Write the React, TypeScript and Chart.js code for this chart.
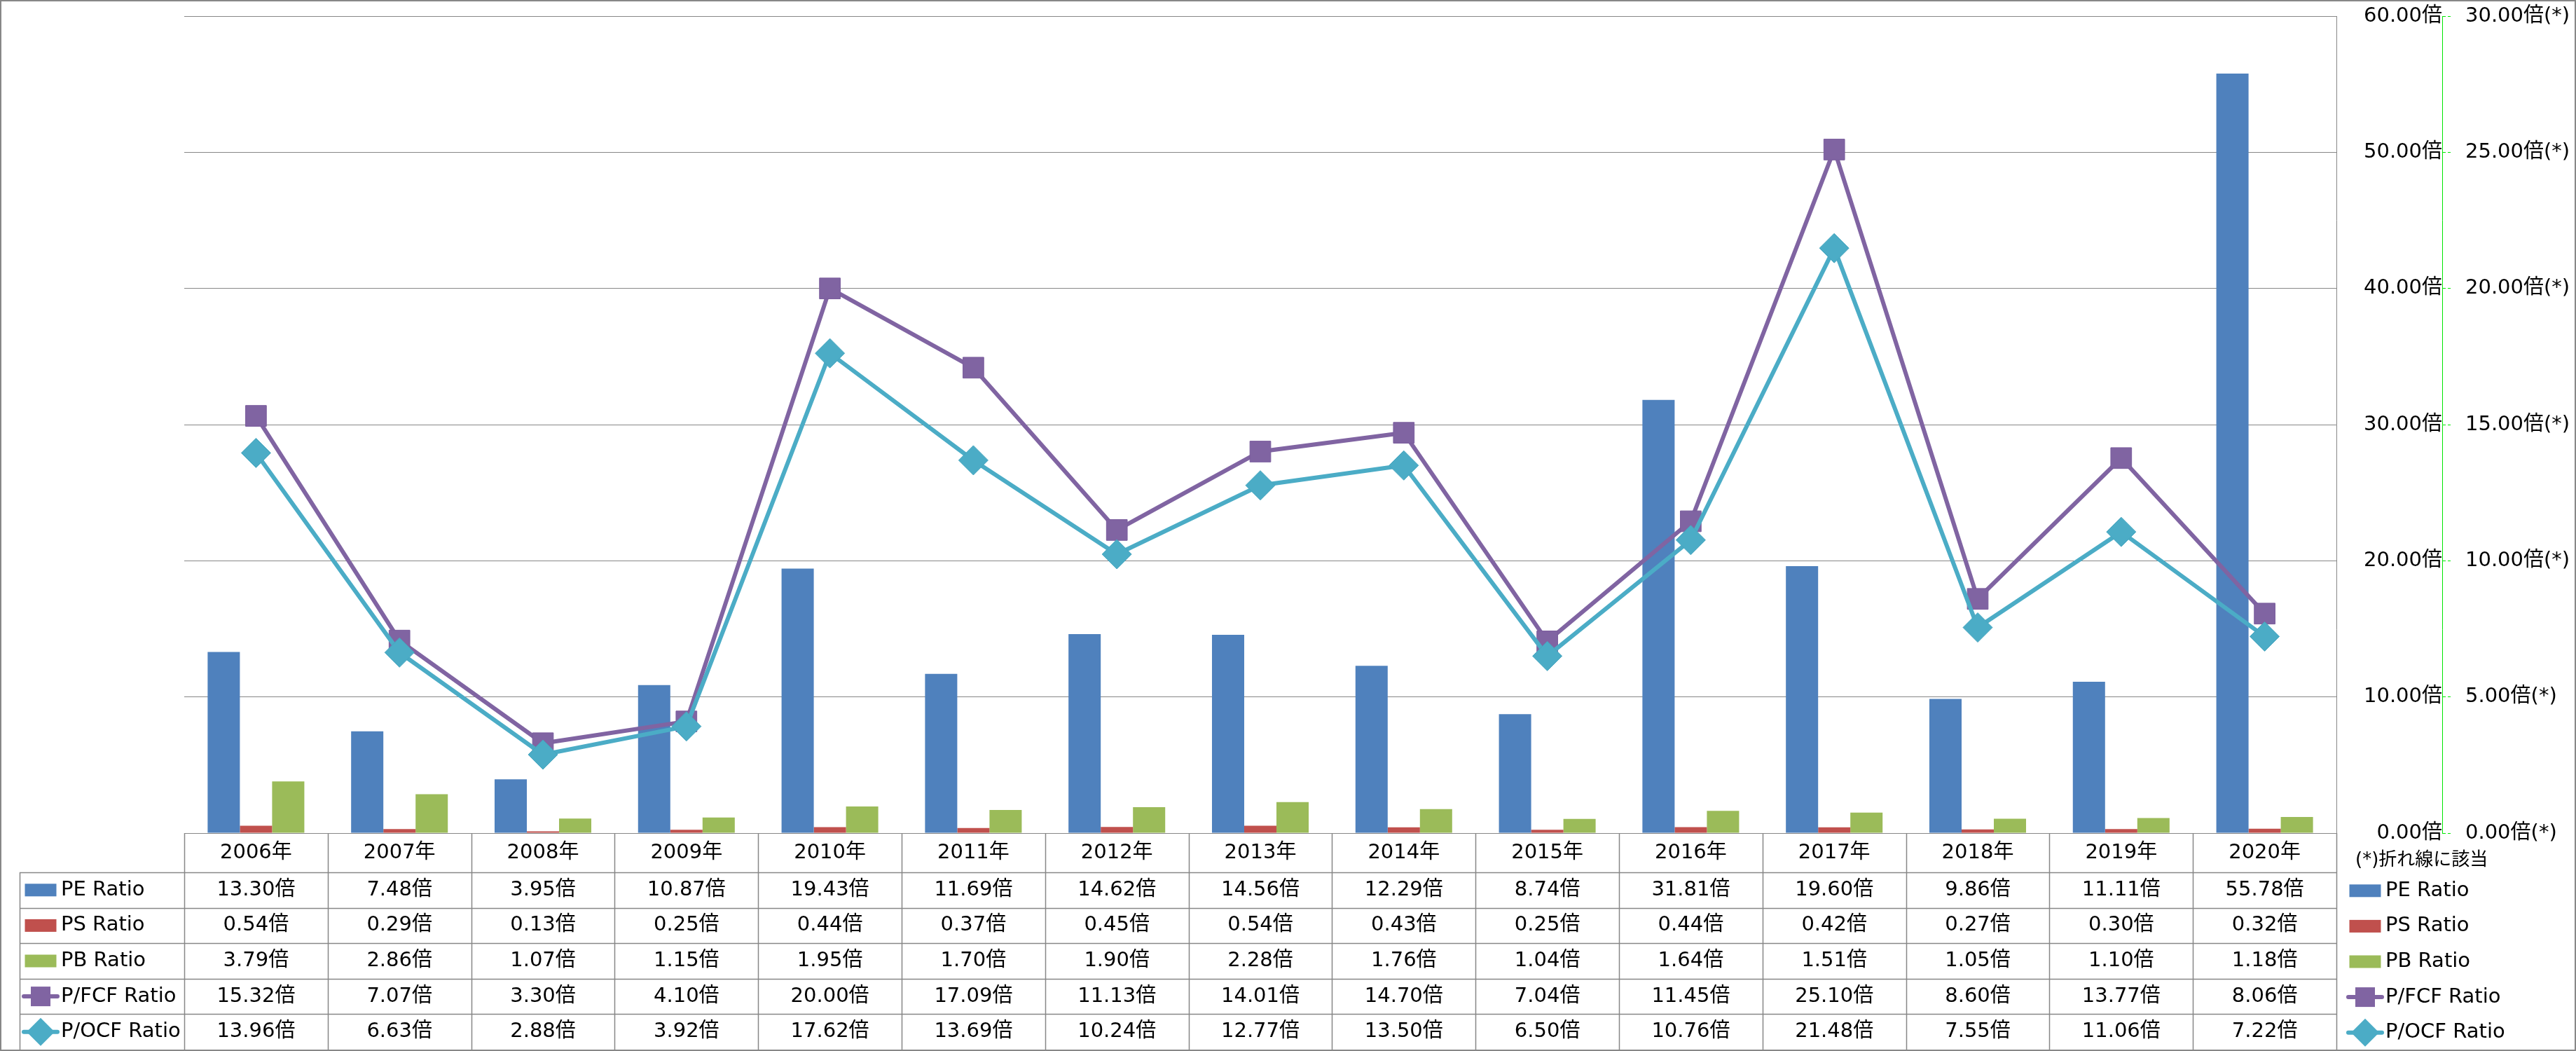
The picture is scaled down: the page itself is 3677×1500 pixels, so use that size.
import React, { useEffect, useRef } from 'react';
import { Chart, registerables } from 'chart.js';

Chart.register(...registerables);

const years = ['2006年', '2007年', '2008年', '2009年', '2010年', '2011年', '2012年', '2013年', '2014年', '2015年', '2016年', '2017年', '2018年', '2019年', '2020年'];
const peRatio = [13.30, 7.48, 3.95, 10.87, 19.43, 11.69, 14.62, 14.56, 12.29, 8.74, 31.81, 19.60, 9.86, 11.11, 55.78];
const psRatio = [0.54, 0.29, 0.13, 0.25, 0.44, 0.37, 0.45, 0.54, 0.43, 0.25, 0.44, 0.42, 0.27, 0.30, 0.32];
const pbRatio = [3.79, 2.86, 1.07, 1.15, 1.95, 1.70, 1.90, 2.28, 1.76, 1.04, 1.64, 1.51, 1.05, 1.10, 1.18];
const pfcfRatio = [15.32, 7.07, 3.30, 4.10, 20.00, 17.09, 11.13, 14.01, 14.70, 7.04, 11.45, 25.10, 8.60, 13.77, 8.06];
const pocfRatio = [13.96, 6.63, 2.88, 3.92, 17.62, 13.69, 10.24, 12.77, 13.50, 6.50, 10.76, 21.48, 7.55, 11.06, 7.22];

const seriesNames = ['PE Ratio', 'PS Ratio', 'PB Ratio', 'P/FCF Ratio', 'P/OCF Ratio'];
const barAxisMax = 60;
const lineAxisMax = 30;
const footnote = '(*)折れ線に該当';

const FONT = "'DejaVu Sans', 'Noto Sans CJK JP', sans-serif";
const GRID = '#878787';
const COLORS = ['#4F81BD', '#C0504D', '#9BBB59', '#8064A2', '#4BACC6'];

export default function App() {
  const ref = useRef<HTMLCanvasElement | null>(null);

  useEffect(() => {
    const canvas = ref.current;
    if (!canvas) return;

    const rows = [
      { name: seriesNames[0], values: peRatio, color: COLORS[0], kind: 'bar' },
      { name: seriesNames[1], values: psRatio, color: COLORS[1], kind: 'bar' },
      { name: seriesNames[2], values: pbRatio, color: COLORS[2], kind: 'bar' },
      { name: seriesNames[3], values: pfcfRatio, color: COLORS[3], kind: 'rect' },
      { name: seriesNames[4], values: pocfRatio, color: COLORS[4], kind: 'diamond' },
    ];

    const drawKey = (ctx: CanvasRenderingContext2D, kind: string, color: string, cx: number, cy: number) => {
      ctx.save();
      ctx.fillStyle = color;
      ctx.strokeStyle = color;
      if (kind === 'bar') {
        ctx.fillRect(cx - 22.5, cy - 9, 45, 18);
      } else {
        ctx.lineWidth = 6;
        ctx.lineCap = 'round';
        ctx.beginPath();
        ctx.moveTo(cx - 24, cy);
        ctx.lineTo(cx + 24, cy);
        ctx.stroke();
        ctx.beginPath();
        if (kind === 'rect') {
          ctx.rect(cx - 14, cy - 14, 28, 28);
        } else {
          ctx.moveTo(cx - 20, cy);
          ctx.lineTo(cx, cy - 20);
          ctx.lineTo(cx + 20, cy);
          ctx.lineTo(cx, cy + 20);
          ctx.closePath();
        }
        ctx.fill();
      }
      ctx.restore();
    };

    const tablePlugin = {
      id: 'dataTable',
      afterDraw(chart: any) {
        const ctx: CanvasRenderingContext2D = chart.ctx;
        const xs = chart.scales.x;
        const n = years.length;
        const left = xs.left;
        const right = xs.right;
        const cw = (right - left) / n;
        const top = chart.chartArea.bottom;
        const headerBottom = top + 56;
        const bottom = chart.height - 2;
        const rowH = (bottom - headerBottom) / rows.length;
        const labelLeft = 28;

        ctx.save();
        ctx.strokeStyle = GRID;
        ctx.lineWidth = 1.5;
        for (let i = 0; i <= n; i++) {
          const x = Math.round(left + i * cw) + 0.5;
          ctx.beginPath();
          ctx.moveTo(x, top);
          ctx.lineTo(x, bottom);
          ctx.stroke();
        }
        ctx.beginPath();
        ctx.moveTo(labelLeft + 0.5, headerBottom);
        ctx.lineTo(labelLeft + 0.5, bottom);
        ctx.stroke();
        for (let r = 0; r < rows.length; r++) {
          const y = Math.round(headerBottom + r * rowH) + 0.5;
          ctx.beginPath();
          ctx.moveTo(labelLeft, y);
          ctx.lineTo(right, y);
          ctx.stroke();
        }

        ctx.fillStyle = '#000';
        ctx.font = `29px ${FONT}`;
        ctx.textAlign = 'center';
        ctx.textBaseline = 'middle';
        rows.forEach((row, r) => {
          const cy = headerBottom + r * rowH + rowH / 2;
          row.values.forEach((v, i) => {
            ctx.fillText(v.toFixed(2) + '倍', xs.getPixelForValue(i), cy);
          });
        });

        ctx.textAlign = 'left';
        rows.forEach((row, r) => {
          const cy = headerBottom + r * rowH + rowH / 2;
          drawKey(ctx, row.kind, row.color, 58, cy);
          ctx.fillStyle = '#000';
          ctx.fillText(row.name, 87, cy);
        });

        rows.forEach((row, r) => {
          const cy = headerBottom + r * rowH + rowH / 2 + 1;
          drawKey(ctx, row.kind, row.color, 3376, cy);
          ctx.fillStyle = '#000';
          ctx.fillText(row.name, 3405, cy);
        });

        ctx.font = `26px ${FONT}`;
        ctx.fillText(footnote, 3362, top + 39);

        ctx.strokeStyle = GRID;
        ctx.lineWidth = 2;
        ctx.strokeRect(1, 1, chart.width - 2, chart.height - 2);
        ctx.restore();
      },
    };

    const noVPad = (s: any, w: number) => {
      s.width = w;
      s.paddingTop = 0;
      s.paddingBottom = 0;
    };

    const chart = new Chart(canvas, {
      type: 'bar',
      data: {
        labels: years,
        datasets: [
          {
            type: 'line',
            label: seriesNames[4],
            data: pocfRatio,
            yAxisID: 'y1',
            borderColor: COLORS[4],
            backgroundColor: COLORS[4],
            pointBackgroundColor: COLORS[4],
            pointBorderColor: '#46A5BE',
            pointBorderWidth: 1,
            pointStyle: 'rectRot',
            pointRadius: 21,
            borderWidth: 6,
            tension: 0,
            order: 0,
          },
          {
            type: 'line',
            label: seriesNames[3],
            data: pfcfRatio,
            yAxisID: 'y1',
            borderColor: COLORS[3],
            backgroundColor: COLORS[3],
            pointBackgroundColor: COLORS[3],
            pointBorderColor: '#7A5D9D',
            pointBorderWidth: 1,
            pointStyle: 'rect',
            pointRadius: 21,
            borderWidth: 6,
            tension: 0,
            order: 1,
          },
          { type: 'bar', label: seriesNames[0], data: peRatio, yAxisID: 'y', backgroundColor: COLORS[0], order: 2 },
          { type: 'bar', label: seriesNames[1], data: psRatio, yAxisID: 'y', backgroundColor: COLORS[1], order: 2 },
          { type: 'bar', label: seriesNames[2], data: pbRatio, yAxisID: 'y', backgroundColor: COLORS[2], order: 2 },
        ] as any,
      },
      options: {
        responsive: false,
        animation: false,
        events: [],
        layout: { padding: { left: 263, top: 23, right: 0, bottom: 0 } },
        datasets: {
          bar: { categoryPercentage: 0.674, barPercentage: 1 },
        },
        plugins: {
          legend: { display: false },
          tooltip: { enabled: false },
          title: { display: false },
        },
        scales: {
          x: {
            type: 'category',
            offset: true,
            grid: { display: false, drawOnChartArea: false, drawTicks: false },
            border: { display: true, color: GRID, width: 1 },
            ticks: {
              color: '#000',
              font: { family: FONT, size: 29 },
              padding: 11,
              maxRotation: 0,
              autoSkip: false,
            },
            afterFit: (s: any) => { s.height = 311; s.paddingLeft = 0; s.paddingRight = 0; },
          },
          y: {
            type: 'linear',
            position: 'right',
            min: 0,
            max: barAxisMax,
            grid: { display: true, drawOnChartArea: true, drawTicks: false, color: GRID, lineWidth: 1 },
            border: { display: true, color: GRID, width: 1 },
            ticks: {
              stepSize: 10,
              color: '#000',
              crossAlign: 'far',
              padding: 33,
              font: { family: FONT, size: 29 },
              callback: (v: any) => Number(v).toFixed(2) + '倍',
            },
            afterFit: (s: any) => noVPad(s, 151),
          },
          y1: {
            type: 'linear',
            position: 'right',
            min: 0,
            max: lineAxisMax,
            grid: {
              display: true,
              drawOnChartArea: false,
              drawTicks: true,
              tickLength: 12,
              tickColor: '#00E600',
              tickBorderDash: [4, 3],
              tickWidth: 1,
            },
            border: { display: true, color: '#00E600', width: 1, dash: [4, 3] },
            ticks: {
              stepSize: 5,
              color: '#000',
              padding: 21,
              font: { family: FONT, size: 29 },
              callback: (v: any) => Number(v).toFixed(2) + '倍(*)',
            },
            afterFit: (s: any) => noVPad(s, 191),
          },
        },
      } as any,
      plugins: [tablePlugin],
    });

    return () => chart.destroy();
  }, []);

  return (
    <div style={{ position: 'absolute', left: 0, top: 0, width: 3677, height: 1500, background: '#fff' }}>
      <canvas ref={ref} width={3677} height={1500} style={{ display: 'block', width: 3677, height: 1500 }} />
    </div>
  );
}
